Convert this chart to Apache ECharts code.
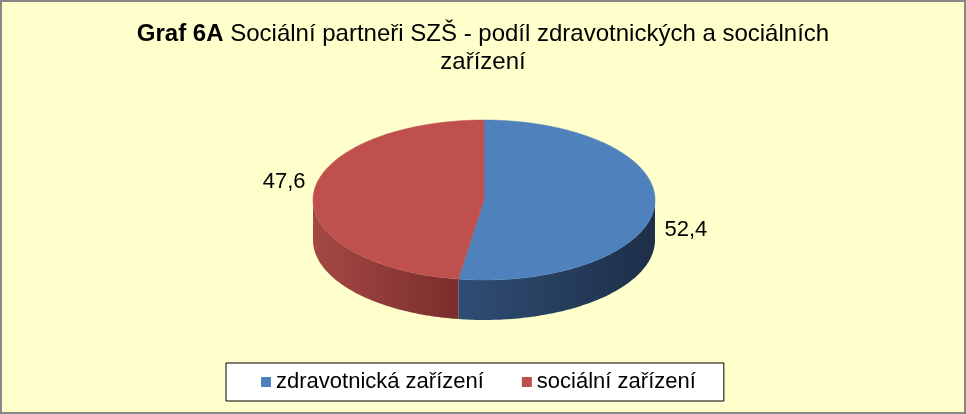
<!DOCTYPE html>
<html>
<head>
    <meta charset="UTF-8">
    <title>Graf 6A</title>
    <script src="https://cdn.jsdelivr.net/npm/echarts@6/dist/echarts.min.js"></script>
    <style type="text/css">
        *{padding:0;margin:0}
        body{background:#fff;}
        #chart{
            width: 966px;
            height: 414px;
            box-sizing: border-box;
            border: 2px solid #878787;
            background: #FFFFCC;
        }
    </style>
</head>
<body>
<div id="chart"></div>
<script type="text/javascript">
    // data
    var categories = ['zdravotnická zařízení', 'sociální zařízení'];
    var values = [52.4, 47.6];
    var labels = ['52,4', '47,6'];
    var topColors = ['#4F81BD', '#C0504D'];
    var sideColors = [['#2F4D74', '#1E2F48'], ['#A54845', '#7A2E2C']];

    // geometry of the "3d" pie (ellipse in pixels inside the chart div)
    var cx = 482, cy = 198, rx = 171, ry = 80, depth = 40;
    var total = values.reduce(function (a, b) { return a + b; }, 0);

    function pt(deg, dy) {
        var t = deg * Math.PI / 180;
        return [cx + rx * Math.sin(t), cy - ry * Math.cos(t) + (dy || 0)];
    }

    function arc(a, b, dy) {
        var pts = [];
        var steps = Math.max(2, Math.ceil(Math.abs(b - a)));
        for (var i = 0; i <= steps; i++) {
            pts.push(pt(a + (b - a) * i / steps, dy));
        }
        return pts;
    }

    function makeRender(idx) {
        return function (params, api) {
            var before = 0;
            for (var i = 0; i < idx; i++) before += values[i];
            var a = before / total * 360;
            var b = a + api.value(0) / total * 360;
            var children = [];

            // front wall (only the lower half of the ellipse is visible)
            var wa = Math.max(a, 90), wb = Math.min(b, 270);
            if (wb > wa) {
                var top = arc(wa, wb, 0);
                var bottom = arc(wa, wb, depth).reverse();
                var xs = top.map(function (p) { return p[0]; });
                var x0 = Math.min.apply(null, xs), x1 = Math.max.apply(null, xs);
                children.push({
                    type: 'polygon',
                    shape: {points: top.concat(bottom)},
                    style: {
                        fill: new echarts.graphic.LinearGradient(x0, 0, x1, 0, [
                            {offset: 0, color: sideColors[idx][0]},
                            {offset: 1, color: sideColors[idx][1]}
                        ], true)
                    }
                });
            }

            // top face
            children.push({
                type: 'polygon',
                shape: {points: [[cx, cy]].concat(arc(a, b, 0))},
                style: {fill: topColors[idx], stroke: topColors[idx], lineWidth: 0.5}
            });

            // data label
            var mid = (a + b) / 2;
            var s = Math.sin(mid * Math.PI / 180);
            var p = pt(mid, 0);
            children.push({
                type: 'text',
                style: {
                    text: labels[idx],
                    x: p[0] + (s > 0 ? 10 : -8),
                    y: p[1] + (s > 0 ? depth * 0.6 : -depth * 0.3),
                    align: s > 0 ? 'left' : 'right',
                    verticalAlign: 'middle',
                    fontSize: 22,
                    fontFamily: 'Liberation Sans, Arial',
                    fill: '#000'
                }
            });
            return {type: 'group', children: children};
        };
    }

    var series = categories.map(function (name, i) {
        return {
            name: name,
            type: 'custom',
            coordinateSystem: 'none',
            itemStyle: {color: topColors[i]},
            renderItem: makeRender(i),
            data: [[values[i]]],
            silent: true
        };
    });

    var option = {
        animation: false,
        title: {
            text: '{b|Graf 6A} Sociální partneři SZŠ - podíl zdravotnických a sociálních\nzařízení',
            left: 'center',
            top: 13,
            textStyle: {
                fontFamily: 'Liberation Sans, Arial',
                fontWeight: 'normal',
                fontSize: 24,
                lineHeight: 28,
                color: '#000',
                rich: {
                    b: {fontWeight: 'bold', fontSize: 24, fontFamily: 'Liberation Sans, Arial', color: '#000'}
                }
            }
        },
        legend: {
            data: categories,
            left: 224,
            top: 361,
            icon: 'rect',
            itemWidth: 10,
            itemHeight: 10,
            itemGap: 38,
            padding: [8, 28, 8, 35],
            backgroundColor: '#fff',
            borderColor: '#000',
            borderWidth: 1,
            borderRadius: 0,
            textStyle: {
                fontFamily: 'Liberation Sans, Arial',
                fontSize: 22,
                color: '#000'
            }
        },
        series: series
    };

    var chart = echarts.init(document.getElementById('chart'));
    chart.setOption(option);
</script>
</body>
</html>
